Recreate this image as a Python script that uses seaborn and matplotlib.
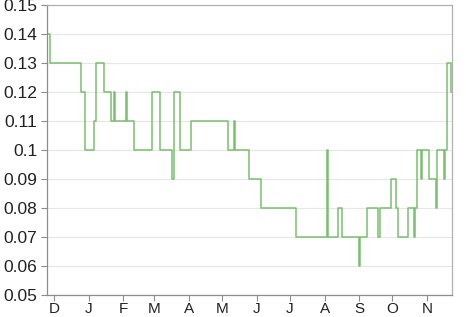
import matplotlib
matplotlib.use("Agg")
import matplotlib.pyplot as plt
import seaborn as sns
import pandas as pd

# change points of the step series (date, value)
dates = ["2012-11-24", "2012-11-25", "2012-11-27", "2012-12-25", "2012-12-29",
         "2013-01-06", "2013-01-08", "2013-01-15", "2013-01-21", "2013-01-24",
         "2013-01-25", "2013-02-04", "2013-02-05", "2013-02-11", "2013-02-27",
         "2013-03-06", "2013-03-17", "2013-03-19", "2013-03-24", "2013-04-03",
         "2013-05-06", "2013-05-12", "2013-05-13", "2013-05-25", "2013-06-05",
         "2013-07-06", "2013-08-03", "2013-08-04", "2013-08-13", "2013-08-17",
         "2013-09-01", "2013-09-02", "2013-09-08", "2013-09-18", "2013-09-20",
         "2013-09-30", "2013-10-04", "2013-10-06", "2013-10-15", "2013-10-20",
         "2013-10-21", "2013-10-23", "2013-10-27", "2013-10-28", "2013-11-03",
         "2013-11-09", "2013-11-10", "2013-11-16", "2013-11-17", "2013-11-19",
         "2013-11-23", "2013-11-24"]
values = [0.13, 0.14, 0.13, 0.12, 0.10,
          0.11, 0.13, 0.12, 0.11, 0.12,
          0.11, 0.12, 0.11, 0.10, 0.12,
          0.10, 0.09, 0.12, 0.10, 0.11,
          0.10, 0.11, 0.10, 0.09, 0.08,
          0.07, 0.10, 0.07, 0.08, 0.07,
          0.06, 0.07, 0.08, 0.07, 0.08,
          0.09, 0.08, 0.07, 0.08, 0.07,
          0.08, 0.10, 0.09, 0.10, 0.09,
          0.08, 0.10, 0.09, 0.10, 0.13,
          0.12, 0.12]

month_ticks = ["2012-12-01", "2013-01-01", "2013-02-01", "2013-03-01", "2013-04-01",
               "2013-05-01", "2013-06-01", "2013-07-01", "2013-08-01", "2013-09-01",
               "2013-10-01", "2013-11-01"]
month_labels = ["D", "J", "F", "M", "A", "M", "J", "J", "A", "S", "O", "N"]
y_ticks = [0.05, 0.06, 0.07, 0.08, 0.09, 0.10, 0.11, 0.12, 0.13, 0.14, 0.15]
y_labels = ["0.05", "0.06", "0.07", "0.08", "0.09", "0.1", "0.11", "0.12", "0.13", "0.14", "0.15"]

df = pd.DataFrame({"date": pd.to_datetime(dates), "value": values})

sns.set_theme(style="white")
plt.rcParams["font.family"] = ["Liberation Sans", "DejaVu Sans"]

fig = plt.figure(figsize=(4.66, 3.17), dpi=100)
ax = fig.add_axes([47 / 466, 1 - 295 / 317, (452 - 47) / 466, (295 - 5) / 317])

sns.lineplot(data=df, x="date", y="value", ax=ax, drawstyle="steps-post",
             color="#79c06d", linewidth=1.1)

start = pd.Timestamp("2012-12-01")
ax.set_xlim(start - pd.Timedelta(days=6.3), start + pd.Timedelta(days=357.5))
ax.set_ylim(0.05, 0.15)

ax.set_yticks(y_ticks)
ax.set_yticklabels(y_labels)
ax.set_xticks(pd.to_datetime(month_ticks))
ax.set_xticklabels(month_labels)

ax.grid(axis="y", color="#e6e6e6", linewidth=0.8)
ax.set_axisbelow(True)
for side in ["left", "bottom"]:
    ax.spines[side].set_color("#8c8c8c")
    ax.spines[side].set_linewidth(0.9)
for side in ["top", "right"]:
    ax.spines[side].set_color("#b0b0b0")
    ax.spines[side].set_linewidth(0.9)

ax.tick_params(axis="y", left=True, length=4.5, width=0.8, color="#8c8c8c",
               labelsize=12.5, pad=2.5, labelcolor="#222222")
ax.tick_params(axis="x", bottom=True, length=4, width=0.8, color="#8c8c8c",
               labelsize=11, pad=1, labelcolor="#222222")
ax.set_xlabel("")
ax.set_ylabel("")

fig.savefig("out.png", dpi=100)
